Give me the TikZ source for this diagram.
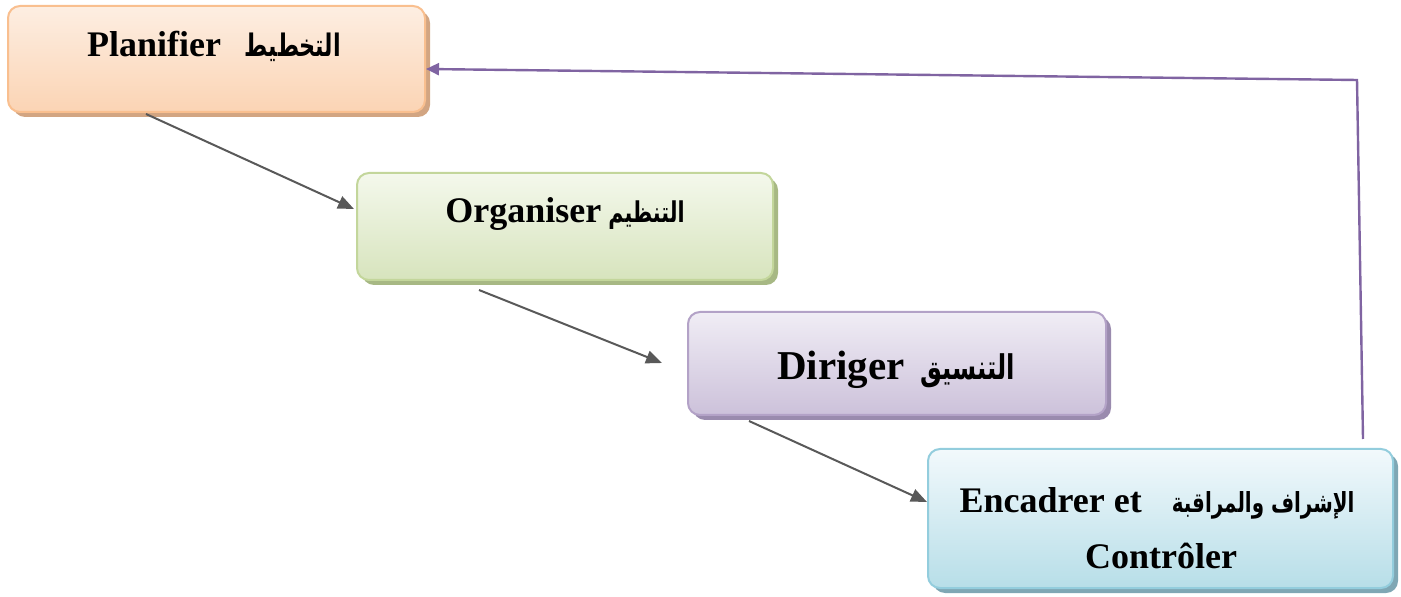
\documentclass[tikz,border=0pt]{standalone}
\usepackage{fontspec}
\setmainfont{Liberation Serif}
\newfontfamily\arabicfont[Script=Arabic, FakeStretch=0.72]{DejaVu Sans}
\TeXXeTstate=1
\usetikzlibrary{shadows,arrows.meta,calc}
\definecolor{orBorder}{HTML}{F9BF8F}
\definecolor{orTop}{HTML}{FDEEE2}
\definecolor{orBot}{HTML}{FBD4B4}
\definecolor{orShadow}{HTML}{D2A582}
\definecolor{grBorder}{HTML}{C3D69B}
\definecolor{grTop}{HTML}{F4F8EC}
\definecolor{grBot}{HTML}{D7E4BD}
\definecolor{grShadow}{HTML}{A7B884}
\definecolor{puBorder}{HTML}{B3A2C7}
\definecolor{puTop}{HTML}{F0EDF5}
\definecolor{puBot}{HTML}{CCC1DA}
\definecolor{puShadow}{HTML}{9A8BAE}
\definecolor{blBorder}{HTML}{93CDDD}
\definecolor{blTop}{HTML}{F2F9FC}
\definecolor{blBot}{HTML}{B7DEE8}
\definecolor{blShadow}{HTML}{7FA7B4}
\definecolor{connGray}{HTML}{595959}
\definecolor{loopPurple}{HTML}{8064A2}
\tikzset{
  box/.style={rectangle, rounded corners=6pt, line width=1pt, inner sep=0pt},
  lbl/.style={anchor=base, inner sep=0pt, font=\bfseries\fontsize{18}{21}\selectfont},
  conn/.style={draw=connGray, line width=1pt, -{Triangle[length=8pt,width=6.5pt]}},
  loopback/.style={draw=loopPurple, line width=1.2pt, -{Triangle[length=6.5pt,width=6pt]}},
}
\newcommand{\arsize}[1]{\arabicfont\fontsize{#1}{#1}\selectfont}
\begin{document}
\begin{tikzpicture}[x=0.5pt,y=-0.5pt]
\path[use as bounding box] (0,0) rectangle (1401,597);
% boxes
\node[box, draw=orBorder, top color=orTop, bottom color=orBot,
  minimum width=208.5pt, minimum height=53pt,
  drop shadow={shadow xshift=2.5pt, shadow yshift=-2.5pt, fill=orShadow, opacity=1}] (b1) at (216.5,59) {};
\node[box, draw=grBorder, top color=grTop, bottom color=grBot,
  minimum width=208pt, minimum height=53.5pt,
  drop shadow={shadow xshift=2.5pt, shadow yshift=-2.5pt, fill=grShadow, opacity=1}] (b2) at (565,226.5) {};
\node[box, draw=puBorder, top color=puTop, bottom color=puBot,
  minimum width=209pt, minimum height=51.5pt,
  drop shadow={shadow xshift=2.5pt, shadow yshift=-2.5pt, fill=puShadow, opacity=1}] (b3) at (897,363.5) {};
\node[box, draw=blBorder, top color=blTop, bottom color=blBot,
  minimum width=232.5pt, minimum height=69.5pt,
  drop shadow={shadow xshift=2.5pt, shadow yshift=-2.5pt, fill=blShadow, opacity=1}] (b4) at (1160.5,518.5) {};
% labels
\node[lbl] (t1) at (214,57) {Planifier\hspace{12pt}{\arsize{15.5}\beginR التخطيط\endR}};
\node[lbl] (t2) at (565,223) {Organiser\hspace{3.5pt}{\arsize{14.3}\beginR التنظيم\endR}};
\node[lbl, font=\bfseries\fontsize{20.5}{24}\selectfont] (t3) at (896,380) {Diriger\hspace{8pt}{\arsize{17}\beginR التنسيق\endR}};
\node[lbl] (t4a) at (1157,513) {Encadrer et\hspace{15pt}{\arsize{13.8}\beginR الإشراف والمراقبة\endR}};
\node[lbl] (t4b) at (1161,568) {Contrôler};
% connectors
\draw[conn] ($(b1.south west)+(139,1)$) -- ($(b2.north west)+(-2,37)$);
\draw[conn] ($(b2.south west)+(123,9)$) -- ($(b3.north west)+(-25,52)$);
\draw[conn] ($(b3.south west)+(62,5)$) -- ($(b4.north west)+(0,54)$);
\coordinate (turn) at (1357,80);
\draw[loopback] ($(b4.north east)+(-31,-9)$) -- (turn) -- ($(b1.north east)+(0,64)$);
\end{tikzpicture}
\end{document}
